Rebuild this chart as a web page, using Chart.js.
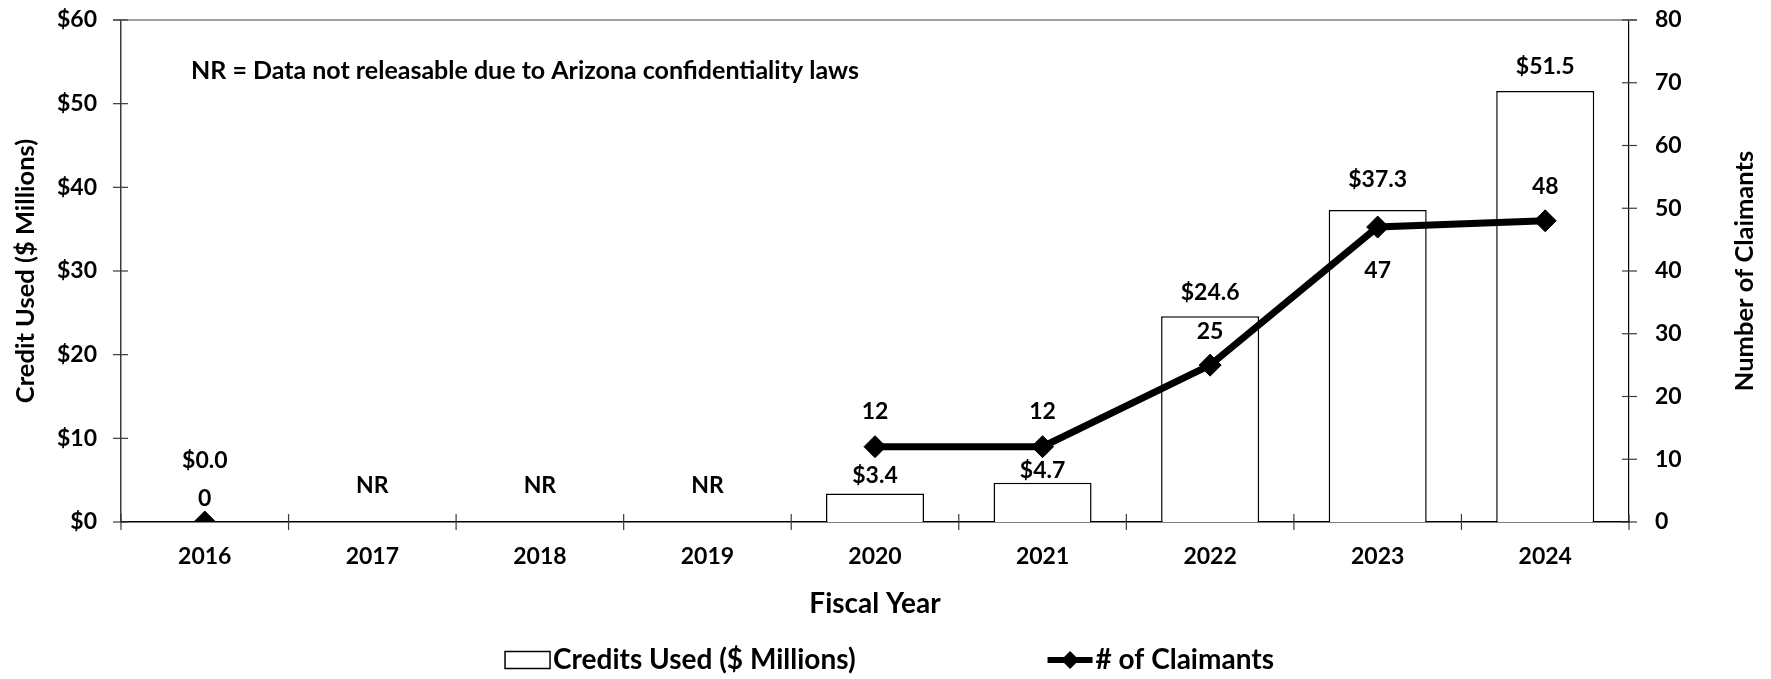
<!DOCTYPE html>
<html>
<head>
<meta charset="utf-8">
<script src="https://cdn.jsdelivr.net/npm/chart.js@4.4.1/dist/chart.umd.min.js"></script>
<style>
  html, body { margin: 0; padding: 0; background: #fff; }
</style>
</head>
<body>
<canvas id="chart" width="1771" height="679"></canvas>
<script>
const years = ['2016', '2017', '2018', '2019', '2020', '2021', '2022', '2023', '2024'];
// null = not releasable (NR)
const creditsUsed = [0, null, null, null, 3.4, 4.7, 24.6, 37.3, 51.5];
const claimants = [0, null, null, null, 12, 12, 25, 47, 48];
const creditAxisMax = 60;
const claimantAxisMax = 80;
const axisStep = 10;

const FONT = 'Lato, "Open Sans", sans-serif';
Chart.defaults.font.family = FONT;
Chart.defaults.font.weight = 'bold';
Chart.defaults.font.size = 23;
Chart.defaults.color = '#000';

// vertical distance of each value label from its mark (negative = below)
const barLabelLift = [61, 0, 0, 0, 18, 12, 24, 30, 25];
const lineLabelLift = [23, 0, 0, 0, 35, 35, 34, -44, 34];

function seg(ctx, x1, y1, x2, y2) {
  ctx.beginPath();
  ctx.moveTo(x1, y1);
  ctx.lineTo(x2, y2);
  ctx.stroke();
}

// fixed axis width, no extra label padding above/below
function fitSide(width) {
  return s => {
    s.width = width;
    s.paddingTop = 0;
    s.paddingBottom = 0;
  };
}

const decor = {
  id: 'decor',
  afterDatasetsDraw(chart) {
    const { ctx, chartArea: a, scales } = chart;
    const x = scales.x, yL = scales.yCredits, yR = scales.yClaimants;
    ctx.save();

    // frame top
    ctx.strokeStyle = '#808080';
    ctx.lineWidth = 1.5;
    seg(ctx, a.left - 8, a.top, a.right + 8, a.top);

    // tick marks crossing the axes
    ctx.strokeStyle = '#3a3a3a';
    ctx.lineWidth = 1.2;
    yL.ticks.forEach((t, i) => {
      const py = yL.getPixelForTick(i);
      seg(ctx, a.left - 8, py, a.left + 7, py);
    });
    yR.ticks.forEach((t, i) => {
      const py = yR.getPixelForTick(i);
      seg(ctx, a.right - 7, py, a.right + 8, py);
    });
    for (let i = 0; i <= years.length; i++) {
      const px = x.getPixelForValue(i - 0.5);
      seg(ctx, px, a.bottom - 8, px, a.bottom + 8);
    }

    // value labels
    ctx.fillStyle = '#000';
    ctx.font = 'bold 23px ' + FONT;
    ctx.textAlign = 'center';
    ctx.textBaseline = 'middle';
    creditsUsed.forEach((v, i) => {
      const cx = x.getPixelForValue(i);
      if (v === null) {
        ctx.fillText('NR', cx, a.bottom - 36);
        return;
      }
      ctx.fillText('$' + v.toFixed(1), cx, yL.getPixelForValue(v) - barLabelLift[i]);
    });
    claimants.forEach((v, i) => {
      if (v === null) return;
      const cx = x.getPixelForValue(i);
      ctx.fillText(String(v), cx, yR.getPixelForValue(v) - lineLabelLift[i]);
    });

    // right axis title, reading bottom to top like the left one
    ctx.save();
    ctx.font = 'bold 25.5px ' + FONT;
    ctx.translate(yR.right - 26, (a.top + a.bottom) / 2);
    ctx.rotate(-Math.PI / 2);
    ctx.fillText('Number of Claimants', 0, 0);
    ctx.restore();

    // note
    ctx.textAlign = 'left';
    ctx.font = 'bold 25px ' + FONT;
    ctx.fillText('NR = Data not releasable due to Arizona confidentiality laws', a.left + 70, a.top + 51);
    ctx.restore();
  },
  afterDraw(chart) {
    // legend along the bottom edge
    const { ctx, width } = chart;
    const [bars, line] = chart.data.datasets;
    ctx.save();
    ctx.font = 'bold 28px ' + FONT;
    ctx.textBaseline = 'middle';
    ctx.textAlign = 'left';
    ctx.fillStyle = '#000';
    const sym = 45, gap = 3, between = 192;
    const w1 = ctx.measureText(bars.label).width;
    const w2 = ctx.measureText(line.label).width;
    const total = sym + gap + w1 + between + sym + gap + w2;
    let lx = (width - total) / 2 + 4;
    const ly = 660;

    ctx.strokeStyle = '#000';
    ctx.lineWidth = 1.5;
    ctx.fillStyle = '#fff';
    ctx.fillRect(lx, ly - 8.5, sym, 17);
    ctx.strokeRect(lx, ly - 8.5, sym, 17);
    ctx.fillStyle = '#000';
    ctx.fillText(bars.label, lx + sym + gap, ly);

    lx += sym + gap + w1 + between;
    ctx.lineWidth = 6;
    seg(ctx, lx, ly, lx + sym, ly);
    ctx.beginPath();
    const dx = lx + sym / 2;
    ctx.moveTo(dx - 9, ly);
    ctx.lineTo(dx, ly - 9);
    ctx.lineTo(dx + 9, ly);
    ctx.lineTo(dx, ly + 9);
    ctx.closePath();
    ctx.fill();
    ctx.fillText(line.label, lx + sym + gap, ly);
    ctx.restore();
  }
};

new Chart(document.getElementById('chart'), {
  data: {
    labels: years,
    datasets: [
      {
        type: 'bar',
        label: 'Credits Used ($ Millions)',
        data: creditsUsed,
        yAxisID: 'yCredits',
        backgroundColor: '#fff',
        borderColor: '#000',
        borderWidth: 1.5,
        borderSkipped: 'bottom',
        categoryPercentage: 1,
        barPercentage: 0.585,
        order: 2
      },
      {
        type: 'line',
        label: '# of Claimants',
        data: claimants,
        yAxisID: 'yClaimants',
        borderColor: '#000',
        borderWidth: 7,
        pointStyle: 'rectRot',
        pointRadius: 11,
        pointBackgroundColor: '#000',
        pointBorderColor: '#000',
        pointBorderWidth: 1,
        spanGaps: false,
        tension: 0,
        order: 1
      }
    ]
  },
  options: {
    responsive: false,
    animation: false,
    devicePixelRatio: 1,
    layout: { padding: { top: 20, left: 0, right: 0, bottom: 0 } },
    plugins: { legend: { display: false }, tooltip: { enabled: false } },
    scales: {
      x: {
        grid: { display: false, drawTicks: false },
        border: { display: true, color: '#000', width: 1.5 },
        ticks: { padding: 21 },
        title: { display: true, text: 'Fiscal Year', font: { size: 28 }, padding: { top: 0, bottom: 58 } },
        afterFit(s) { s.height = 157; }
      },
      yCredits: {
        position: 'left',
        min: 0,
        max: creditAxisMax,
        grid: { display: false, drawTicks: false },
        border: { display: true, color: '#3a3a3a', width: 1.5 },
        ticks: { stepSize: axisStep, padding: 24, callback: v => '$' + v },
        title: { display: true, text: 'Credit Used ($ Millions)', font: { size: 25.5 }, padding: { top: 10, bottom: 0 } },
        afterFit: fitSide(121)
      },
      yClaimants: {
        position: 'right',
        min: 0,
        max: claimantAxisMax,
        grid: { display: false, drawTicks: false },
        border: { display: true, color: '#000', width: 1.2 },
        ticks: { stepSize: axisStep, padding: 26 },
        afterFit: fitSide(142)
      }
    }
  },
  plugins: [decor]
});
</script>
</body>
</html>
